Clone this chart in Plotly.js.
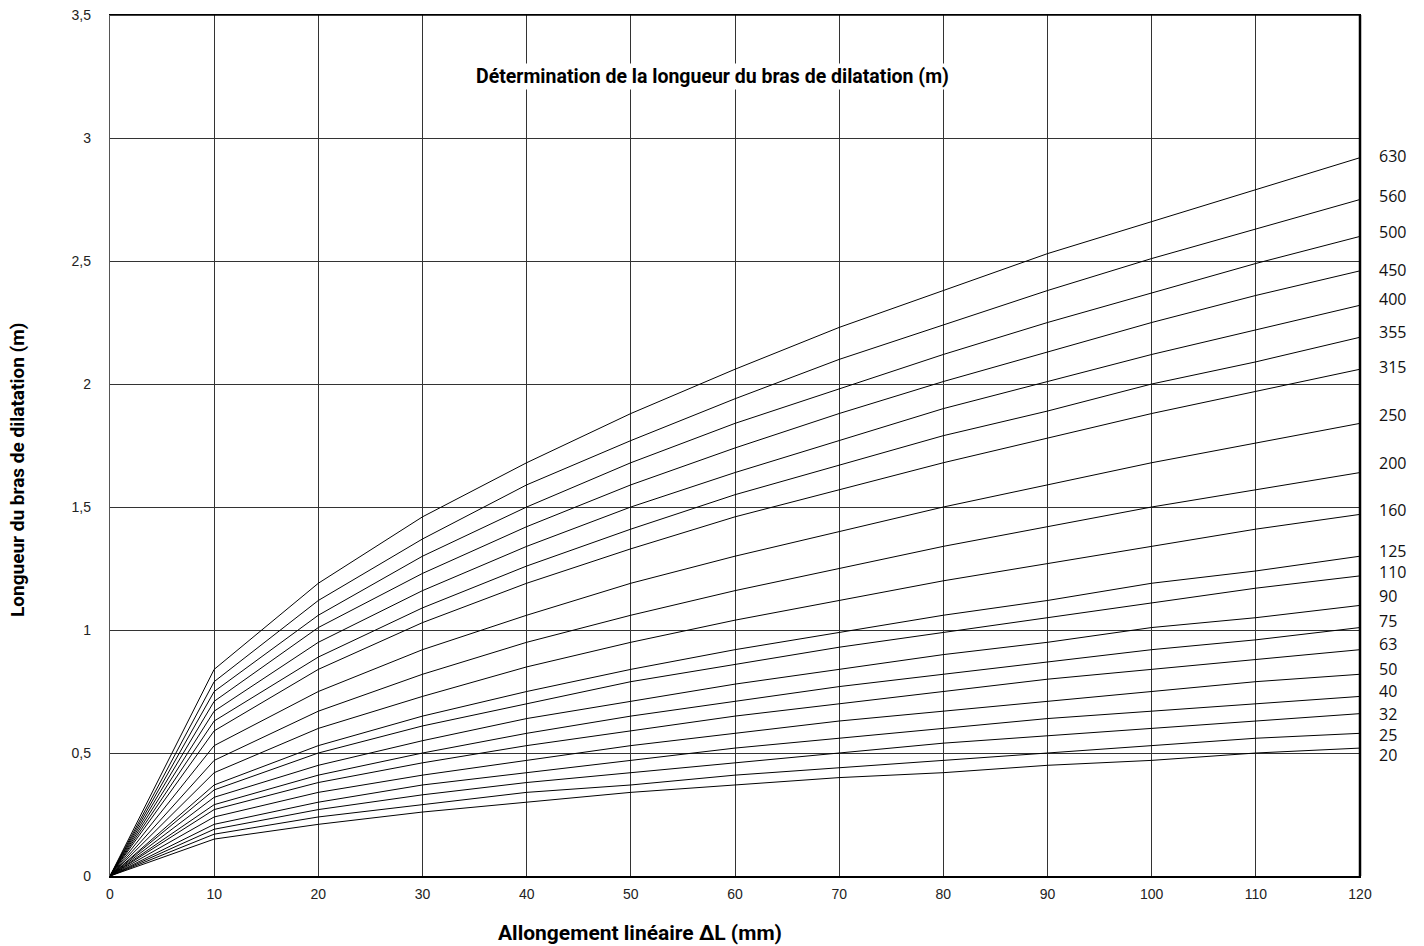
<!DOCTYPE html>
<html>
<head>
<meta charset="utf-8">
<script src="https://cdn.plot.ly/plotly-3.0.1.min.js"></script>
<style>
  html, body { margin: 0; padding: 0; background: #fff; }
  #chart { width: 1424px; height: 946px; }
</style>
</head>
<body>
<div id="chart"></div>
<script>
// Allongement linéaire ΔL (mm)
const elongation = [0, 10, 20, 30, 40, 50, 60, 70, 80, 90, 100, 110, 120];

// Diamètres (labels at right)
const diameters = ['630', '560', '500', '450', '400', '355', '315', '250', '200', '160',
                   '125', '110', '90', '75', '63', '50', '40', '32', '25', '20'];

// Longueur du bras de dilatation (m)
const d630 = [0, 0.84, 1.19, 1.46, 1.68, 1.88, 2.06, 2.23, 2.38, 2.53, 2.66, 2.79, 2.92];
const d560 = [0, 0.79, 1.12, 1.37, 1.59, 1.77, 1.94, 2.10, 2.24, 2.38, 2.51, 2.63, 2.75];
const d500 = [0, 0.75, 1.06, 1.30, 1.50, 1.68, 1.84, 1.98, 2.12, 2.25, 2.37, 2.49, 2.60];
const d450 = [0, 0.71, 1.01, 1.23, 1.42, 1.59, 1.74, 1.88, 2.01, 2.13, 2.25, 2.36, 2.46];
const d400 = [0, 0.67, 0.95, 1.16, 1.34, 1.50, 1.64, 1.77, 1.90, 2.01, 2.12, 2.22, 2.32];
const d355 = [0, 0.63, 0.89, 1.09, 1.26, 1.41, 1.55, 1.67, 1.79, 1.89, 2.00, 2.09, 2.19];
const d315 = [0, 0.59, 0.84, 1.03, 1.19, 1.33, 1.46, 1.57, 1.68, 1.78, 1.88, 1.97, 2.06];
const d250 = [0, 0.53, 0.75, 0.92, 1.06, 1.19, 1.30, 1.40, 1.50, 1.59, 1.68, 1.76, 1.84];
const d200 = [0, 0.47, 0.67, 0.82, 0.95, 1.06, 1.16, 1.25, 1.34, 1.42, 1.50, 1.57, 1.64];
const d160 = [0, 0.42, 0.60, 0.73, 0.85, 0.95, 1.04, 1.12, 1.20, 1.27, 1.34, 1.41, 1.47];
const d125 = [0, 0.37, 0.53, 0.65, 0.75, 0.84, 0.92, 0.99, 1.06, 1.12, 1.19, 1.24, 1.30];
const d110 = [0, 0.35, 0.50, 0.61, 0.70, 0.79, 0.86, 0.93, 0.99, 1.05, 1.11, 1.17, 1.22];
const d90  = [0, 0.32, 0.45, 0.55, 0.64, 0.71, 0.78, 0.84, 0.90, 0.95, 1.01, 1.05, 1.10];
const d75  = [0, 0.29, 0.41, 0.50, 0.58, 0.65, 0.71, 0.77, 0.82, 0.87, 0.92, 0.96, 1.01];
const d63  = [0, 0.27, 0.38, 0.46, 0.53, 0.59, 0.65, 0.70, 0.75, 0.80, 0.84, 0.88, 0.92];
const d50  = [0, 0.24, 0.34, 0.41, 0.47, 0.53, 0.58, 0.63, 0.67, 0.71, 0.75, 0.79, 0.82];
const d40  = [0, 0.21, 0.30, 0.37, 0.42, 0.47, 0.52, 0.56, 0.60, 0.64, 0.67, 0.70, 0.73];
const d32  = [0, 0.19, 0.27, 0.33, 0.38, 0.42, 0.46, 0.50, 0.54, 0.57, 0.60, 0.63, 0.66];
const d25  = [0, 0.17, 0.24, 0.29, 0.34, 0.37, 0.41, 0.44, 0.47, 0.50, 0.53, 0.56, 0.58];
const d20  = [0, 0.15, 0.21, 0.26, 0.30, 0.34, 0.37, 0.40, 0.42, 0.45, 0.47, 0.50, 0.52];

const series = [d630, d560, d500, d450, d400, d355, d315, d250, d200, d160,
                d125, d110, d90, d75, d63, d50, d40, d32, d25, d20];

// vertical nudges (px) of the right-hand labels relative to each line end
const labelNudge = [2, 4, 4, 1, 6, 5, 2, 8, 10, 4, 5, 4, 9, 7, 6, 5, 5, 0, -2, -7];

const condensed = '"Liberation Sans Narrow", "Arial Narrow", "Roboto", "Liberation Sans", sans-serif';

const traces = series.map((ys, i) => ({
  type: 'scatter',
  mode: 'lines',
  x: elongation,
  y: ys,
  name: diameters[i],
  line: { color: '#000', width: 1 },
  hoverinfo: 'skip',
  showlegend: false
}));

const lastX = elongation[elongation.length - 1];
const labelAnnotations = series.map((ys, i) => ({
  x: lastX,
  y: ys[ys.length - 1],
  xref: 'x', yref: 'y',
  text: diameters[i],
  showarrow: false,
  xanchor: 'left',
  yanchor: 'middle',
  xshift: 18,
  yshift: labelNudge[i],
  borderpad: 0,
  font: { family: '"Open Sans", "Noto Sans", sans-serif', size: 16, color: '#111' }
}));

const layout = {
  width: 1424,
  height: 946,
  margin: { l: 110, r: 64, t: 15, b: 70 },
  paper_bgcolor: '#fff',
  plot_bgcolor: '#fff',
  separators: ', ',
  showlegend: false,
  hovermode: false,
  xaxis: {
    range: [0, 120],
    tickmode: 'linear',
    tick0: 0,
    dtick: 10,
    showgrid: true,
    gridcolor: '#333',
    gridwidth: 1,
    zeroline: false,
    showline: true,
    linecolor: '#000',
    linewidth: 1.5,
    mirror: true,
    ticks: 'outside',
    ticklen: 5,
    tickcolor: 'rgba(0,0,0,0)',
    tickfont: { family: '"Liberation Sans", Arial, sans-serif', size: 14, color: '#222' }
  },
  yaxis: {
    range: [0, 3.5],
    tickmode: 'linear',
    tick0: 0,
    dtick: 0.5,
    showgrid: true,
    gridcolor: '#333',
    gridwidth: 1,
    zeroline: false,
    showline: true,
    linecolor: '#555',
    linewidth: 1.2,
    mirror: true,
    ticks: 'outside',
    ticklen: 15,
    tickcolor: 'rgba(0,0,0,0)',
    tickfont: { family: '"Liberation Sans", Arial, sans-serif', size: 14, color: '#222' }
  },
  shapes: [
    { type: 'line', xref: 'paper', yref: 'paper', x0: 1, x1: 1, y0: 0, y1: 1,
      line: { color: '#000', width: 2.5 } },
    { type: 'line', xref: 'paper', yref: 'paper', x0: 0, x1: 1, y0: 1, y1: 1,
      line: { color: '#000', width: 1.5 } }
  ],
  annotations: [
    {
      xref: 'paper', yref: 'paper', x: 0.4816, y: 0.928,
      text: '<b>Détermination de la longueur du bras de dilatation (m)</b>',
      showarrow: false, xanchor: 'center', yanchor: 'middle',
      bgcolor: '#fff',
      font: { family: condensed, size: 19.5, color: '#000' }
    },
    {
      xref: 'paper', yref: 'paper', x: 0.424, y: -0.066,
      text: '<b>Allongement linéaire ΔL (mm)</b>',
      showarrow: false, xanchor: 'center', yanchor: 'middle',
      font: { family: condensed, size: 21, color: '#000' }
    },
    {
      xref: 'paper', yref: 'paper', x: -0.0736, y: 0.4716,
      text: '<b>Longueur du bras de dilatation (m)</b>',
      textangle: -90,
      showarrow: false, xanchor: 'center', yanchor: 'middle',
      font: { family: condensed, size: 19, color: '#000' }
    }
  ].concat(labelAnnotations)
};

Plotly.newPlot('chart', traces, layout, { displayModeBar: false, staticPlot: true });
</script>
</body>
</html>
